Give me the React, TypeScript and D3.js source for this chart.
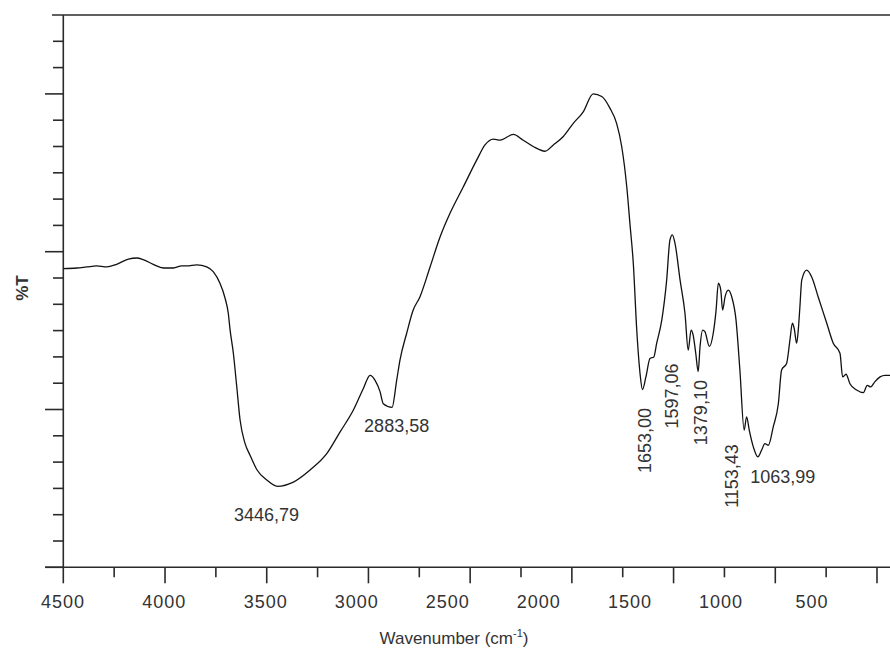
import React from 'react';
import * as d3 from 'd3';

// FTIR spectrum, values
const wavenumbers = [
  4500, 4434, 4385, 4336, 4287, 4238, 4180, 4139, 4107, 4058, 4008, 3959, 3918, 3893, 3844, 3795,
  3763, 3730, 3705, 3689, 3680, 3664, 3648, 3631, 3607, 3582, 3549, 3500, 3447, 3369, 3287, 3205,
  3140, 3074, 3025, 2992, 2968, 2943, 2927, 2884, 2861, 2845, 2812, 2780, 2747, 2697, 2648, 2599,
  2534, 2468, 2427, 2386, 2353, 2288, 2239, 2190, 2132, 2091, 2042, 1993, 1944, 1895, 1853, 1813,
  1780, 1755, 1730, 1714, 1698, 1681, 1665, 1653, 1636, 1616, 1597, 1583, 1558, 1534, 1518, 1506,
  1493, 1468, 1444, 1428, 1414, 1404, 1391, 1379, 1370, 1357, 1346, 1324, 1305, 1291, 1280, 1268,
  1259, 1247, 1231, 1214, 1193, 1174, 1153, 1141, 1128, 1108, 1086, 1067, 1051, 1034, 1010, 985,
  969, 944, 928, 916, 907, 895, 887, 879, 870, 846, 821, 789, 747, 715, 682, 669,
  652, 633, 600, 567, 548, 531, 510, 485, 461, 436, 400,
];

const transmittance = [
  56.8, 56.9, 57.1, 57.3, 57.1, 57.6, 58.6, 58.8, 58.5, 57.6, 56.9, 56.9, 57.3, 57.3, 57.5, 57.1,
  56.2, 54.0, 51.2, 48.3, 45.1, 40.7, 34.6, 28.0, 23.6, 21.3, 18.6, 16.6, 15.4, 16.2, 18.5, 21.6,
  25.7, 29.9, 34.0, 36.5, 35.6, 33.4, 31.1, 30.4, 35.6, 39.4, 44.5, 48.9, 51.4, 57.1, 62.8, 67.3,
  72.3, 77.4, 80.3, 81.4, 81.2, 82.3, 81.2, 80.0, 79.1, 80.3, 81.9, 84.4, 86.6, 90.0, 89.5, 87.3,
  84.4, 80.0, 72.3, 65.1, 57.8, 45.1, 36.9, 33.8, 36.2, 39.7, 40.0, 42.6, 47.0, 54.6, 62.2, 63.2,
  61.6, 54.6, 48.3, 41.3, 45.1, 44.2, 40.7, 37.2, 41.9, 45.1, 44.8, 42.0, 44.5, 48.9, 54.0, 52.7,
  48.9, 51.4, 52.7, 51.4, 47.0, 37.5, 26.1, 28.6, 26.1, 22.9, 21.0, 22.3, 23.5, 23.2, 26.7, 31.1,
  37.5, 38.8, 43.2, 46.4, 45.4, 42.6, 45.1, 49.5, 54.6, 56.5, 55.2, 51.4, 46.4, 42.6, 40.7, 36.2,
  36.7, 34.9, 33.7, 33.2, 34.6, 34.3, 35.3, 36.2, 36.5, 36.5, 36.5,
];

// peak annotations
const peakLabels = ['3446,79', '2883,58', '1653,00', '1597,06', '1379,10', '1153,43', '1063,99'];
const peakWavenumbers = [3446.79, 2883.58, 1653.0, 1597.06, 1379.1, 1153.43, 1063.99];
const peakTransmittance = [15.4, 30.4, 33.8, 40.0, 37.2, 26.1, 21.0];

const xMajorTicks = [4500, 4000, 3500, 3000, 2500, 2000, 1500, 1000, 500];
const xMinorTicks = [4250, 3750, 3250, 2750, 2250, 1750, 1250, 750];
const yMajorTicks = [0, 30, 60, 90];
const yMinorTicks = [5, 10, 15, 20, 25, 35, 40, 45, 50, 55, 65, 70, 75, 80, 85, 95, 100];

const W = 890;
const H = 648;
const FONT = '"Liberation Sans", Arial, sans-serif';
const AXIS = '#2b2b2b';
const TEXT = '#333';

// where each peak label sits relative to its point
const labelLayout = [
  { dx: -11, dy: 35, rot: false, anchor: 'middle' },
  { dx: -28, dy: 25, rot: false, anchor: 'start' },
  { dx: 8.5, dy: 51, rot: true, anchor: 'middle' },
  { dx: 24, dy: 39, rot: true, anchor: 'middle' },
  { dx: 8.5, dy: 41, rot: true, anchor: 'middle' },
  { dx: -6, dy: 46, rot: true, anchor: 'middle' },
  { dx: -12, dy: 26, rot: false, anchor: 'start' },
];

const App: React.FC = () => {
  const xScale = d3.scaleLinear().domain([4500, 500]).range([63.3, 877]);
  // the tick labels in the original drift away from their ticks
  const labelScale = d3.scaleLinear().domain([4500, 3500, 500]).range([63, 265.7, 812]);
  const yScale = d3.scaleLinear().domain([0, 105]).range([567.3, 15]);

  const points = wavenumbers.map((w, i) => [w, transmittance[i]] as [number, number]);
  const line = d3
    .line<[number, number]>()
    .x((d) => xScale(d[0]))
    .y((d) => yScale(d[1]))
    .curve(d3.curveMonotoneX);

  const x0 = xScale(4500);
  const yBase = yScale(0);
  const yTop = yScale(105);

  return (
    <>
      <style>{`body{margin:0}`}</style>
      <svg width={W} height={H} style={{ display: 'block', background: '#fff' }} fontFamily={FONT}>
        {/* frame */}
        <line x1={52} x2={W} y1={yTop} y2={yTop} stroke={AXIS} strokeWidth={1.6} />
        <line x1={x0} x2={x0} y1={yTop} y2={yBase} stroke={AXIS} strokeWidth={1.6} />
        <line x1={45} x2={W} y1={yBase} y2={yBase} stroke={AXIS} strokeWidth={1.6} />

        {/* y ticks */}
        {yMajorTicks.map((t) => (
          <line key={'ym' + t} x1={45} x2={x0} y1={yScale(t)} y2={yScale(t)} stroke={AXIS} strokeWidth={1.6} />
        ))}
        {yMinorTicks.map((t) => (
          <line key={'yn' + t} x1={53} x2={x0} y1={yScale(t)} y2={yScale(t)} stroke={AXIS} strokeWidth={1.6} />
        ))}

        {/* x ticks */}
        {xMajorTicks.map((t) => (
          <line key={'xm' + t} x1={xScale(t)} x2={xScale(t)} y1={yBase} y2={yBase + 16} stroke={AXIS} strokeWidth={1.6} />
        ))}
        {xMinorTicks.map((t) => (
          <line key={'xn' + t} x1={xScale(t)} x2={xScale(t)} y1={yBase} y2={yBase + 10} stroke={AXIS} strokeWidth={1.6} />
        ))}
        {xMajorTicks.map((t) => (
          <text
            key={'xl' + t}
            x={labelScale(t)}
            y={608}
            textAnchor="middle"
            fontSize={18}
            letterSpacing={1}
            fill={TEXT}
          >
            {t}
          </text>
        ))}

        {/* axis titles */}
        <text x={454} y={644} textAnchor="middle" fontSize={17} fill={TEXT}>
          Wavenumber (cm
          <tspan fontSize={11} dy={-7}>-1</tspan>
          <tspan dy={7}>)</tspan>
        </text>
        <text
          transform="translate(28,288) rotate(-90)"
          textAnchor="middle"
          fontSize={17}
          fontWeight="bold"
          fill={TEXT}
        >
          %T
        </text>

        {/* spectrum */}
        <path d={line(points) || ''} fill="none" stroke="#111" strokeWidth={1.3} strokeLinejoin="round" />

        {/* peak labels */}
        {peakLabels.map((label, i) => {
          const l = labelLayout[i];
          const px = xScale(peakWavenumbers[i]) + l.dx;
          const py = yScale(peakTransmittance[i]) + l.dy;
          return (
            <text
              key={label}
              x={l.rot ? 0 : px}
              y={l.rot ? 0 : py}
              transform={l.rot ? `translate(${px},${py}) rotate(-90)` : undefined}
              textAnchor={l.anchor}
              fontSize={18}
              fill={TEXT}
            >
              {label}
            </text>
          );
        })}
      </svg>
    </>
  );
};

export default App;
